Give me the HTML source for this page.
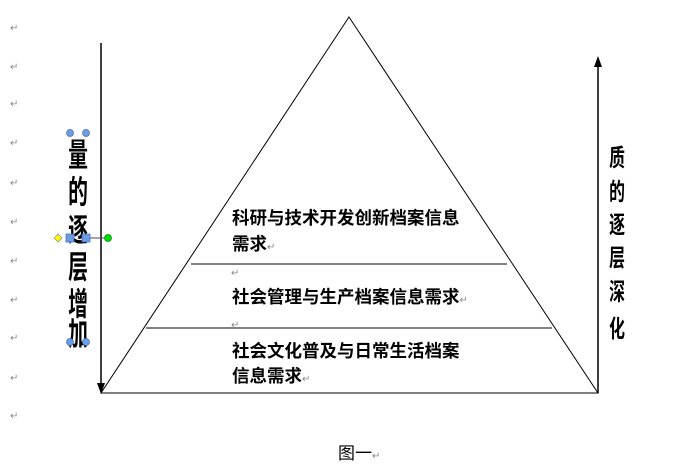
<html><body style="margin:0;background:#fff;width:690px;height:468px;overflow:hidden">
<svg width="690" height="468" xmlns="http://www.w3.org/2000/svg" style="display:block;font-family:'Liberation Sans','Noto Sans CJK SC',sans-serif">
<g fill="none" stroke="#000" stroke-width="1">
<path d="M349,17 L101,393 L598,393 Z"/>
<line x1="101" y1="43" x2="101" y2="385" stroke-width="1.5"/>
<line x1="598" y1="393" x2="598" y2="65" stroke-width="1.5"/>
<line x1="191" y1="264" x2="507" y2="264"/>
<line x1="146" y1="328" x2="552" y2="328"/>
<line x1="86" y1="238" x2="107" y2="238" stroke="#446"/>
</g>
<path d="M97,383 L101,394 L105,383 Z" fill="#000"/>
<path d="M594,67 L598,56 L602,67 Z" fill="#000"/>
<g font-size="17.5" font-weight="bold" fill="#000">
<text x="232" y="224">科研与技术开发创新档案信息</text>
<text x="232" y="250">需求<tspan fill="#888" font-size="10" font-weight="normal">↵</tspan></text>
<text x="232" y="303">社会管理与生产档案信息需求<tspan fill="#888" font-size="10" font-weight="normal">↵</tspan></text>
<text x="232" y="357">社会文化普及与日常生活档案</text>
<text x="232" y="382">信息需求<tspan fill="#888" font-size="10" font-weight="normal">↵</tspan></text>
</g>
<g fill="#888" font-size="10"><text x="231" y="276">↵</text><text x="231" y="328">↵</text></g>
<g font-size="32" font-weight="bold" fill="#000" transform="translate(78,0) scale(0.62,1)" text-anchor="middle">
<text x="0" y="166">量</text><text x="0" y="203">的</text><text x="0" y="241">逐</text><text x="0" y="278">层</text><text x="0" y="315">增</text><text x="0" y="345">加</text>
</g>
<g font-size="24" font-weight="bold" fill="#000" transform="translate(617,0) scale(0.66,1)" text-anchor="middle">
<text x="0" y="166">质</text><text x="0" y="200">的</text><text x="0" y="233">逐</text><text x="0" y="266">层</text><text x="0" y="300">深</text><text x="0" y="337">化</text>
</g>
<g fill="#6f9be0" stroke="#3d6ab8" stroke-width="0.7">
<circle cx="70" cy="133" r="3.5"/><circle cx="86" cy="133" r="3.5"/>
<circle cx="70" cy="342" r="3.5"/><circle cx="86" cy="342" r="3.5"/>
<rect x="66" y="234" width="8" height="8"/><rect x="82" y="234" width="8" height="8"/>
</g>
<path d="M58,234 L62,238 L58,242 L54,238 Z" fill="#ff0" stroke="#888" stroke-width="0.7"/>
<circle cx="108" cy="238" r="3.5" fill="#0d0" stroke="#080" stroke-width="0.7"/>
<g fill="#888" font-size="10">
<text x="10" y="31">↵</text><text x="10" y="70">↵</text><text x="10" y="107">↵</text><text x="10" y="146">↵</text><text x="10" y="186">↵</text><text x="10" y="225">↵</text><text x="10" y="264">↵</text><text x="10" y="303">↵</text><text x="10" y="341">↵</text><text x="10" y="381">↵</text><text x="10" y="419">↵</text>
</g>
<text x="338" y="459" font-size="17" fill="#000">图一<tspan fill="#888" font-size="10">↵</tspan></text>
</svg>
</body></html>
